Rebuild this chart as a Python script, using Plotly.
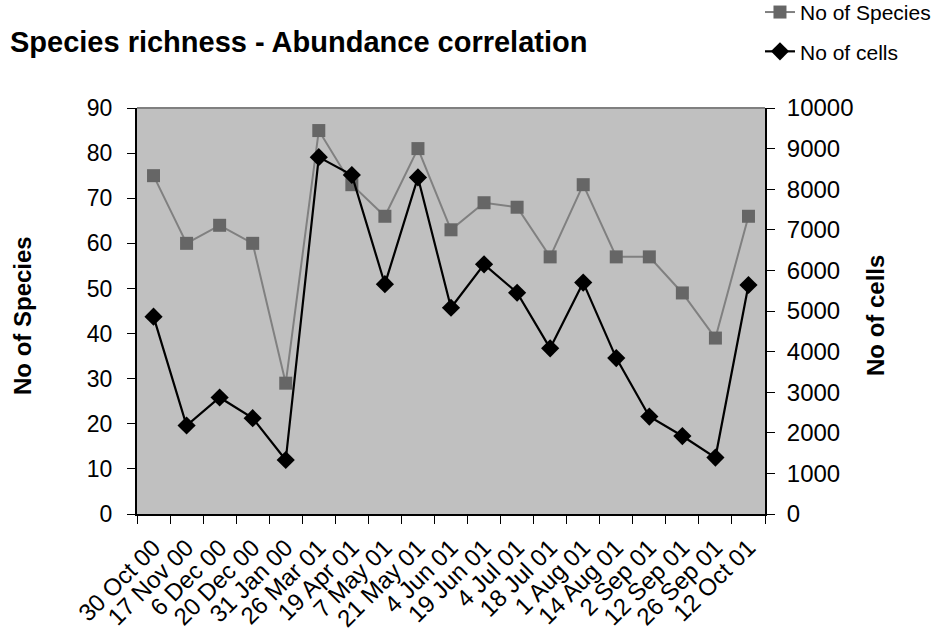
import plotly.graph_objects as go

dates = ["30 Oct 00", "17 Nov 00", "6 Dec 00", "20 Dec 00", "31 Jan 00", "26 Mar 01",
         "19 Apr 01", "7 May 01", "21 May 01", "4 Jun 01", "19 Jun 01", "4 Jul 01",
         "18 Jul 01", "1 Aug 01", "14 Aug 01", "2 Sep 01", "12 Sep 01", "26 Sep 01",
         "12 Oct 01"]
species = [75, 60, 64, 60, 29, 85, 73, 66, 81, 63, 69, 68, 57, 73, 57, 57, 49, 39, 66]
cells = [4860, 2180, 2870, 2360, 1330, 8790, 8350, 5660, 8290, 5080, 6150, 5450,
         4080, 5700, 3840, 2400, 1920, 1390, 5640]

FONT = "Liberation Sans, Arial, sans-serif"

fig = go.Figure()
fig.add_trace(go.Scatter(
    x=dates, y=species, name="No of Species", mode="lines+markers",
    line=dict(color="#808080", width=2),
    marker=dict(symbol="square", size=13, color="#666666"),
    legendgroup="a", yaxis="y"))
fig.add_trace(go.Scatter(
    x=dates, y=cells, name="No of cells", mode="lines+markers",
    line=dict(color="#000000", width=2.2),
    marker=dict(symbol="diamond", size=14, color="#000000"),
    legendgroup="b", yaxis="y2"))

fig.update_layout(
    width=949, height=639,
    margin=dict(l=137, r=184, t=108, b=125, autoexpand=False),
    paper_bgcolor="white", plot_bgcolor="#C0C0C0",
    font=dict(family=FONT, size=22, color="black"),
    title=dict(text="<b>Species richness - Abundance correlation</b>",
               x=0.0105, xanchor="left", y=1 - 42 / 639, yanchor="middle",
               font=dict(size=29, family=FONT)),
    showlegend=True,
    legend=dict(x=0.992, xanchor="left", y=1.286, yanchor="top",
                font=dict(size=21, family=FONT), bgcolor="rgba(0,0,0,0)",
                traceorder="grouped", tracegroupgap=9, itemwidth=30),
    xaxis=dict(type="category", range=[-0.5, len(dates) - 0.5],
               tickson="boundaries", ticks="outside",
               ticklen=8, tickcolor="black", tickwidth=1,
               showline=True, linecolor="black", linewidth=2,
               showgrid=False, tickangle=-45, tickfont=dict(size=24),
               ticklabelstandoff=8),
    yaxis=dict(range=[0, 90], dtick=10, ticks="outside", ticklen=8,
               tickcolor="black", showline=True, linecolor="black", linewidth=2,
               showgrid=False, zeroline=False, tickfont=dict(size=23),
               ticklabelstandoff=10),
    yaxis2=dict(range=[0, 10000], dtick=1000, tickformat="d", ticks="outside", ticklen=8,
                tickcolor="black", showline=True, linecolor="black", linewidth=2,
                showgrid=False, zeroline=False, overlaying="y", side="right",
                tickfont=dict(size=24), ticklabelstandoff=7),
    annotations=[
        dict(text="<b>No of Species</b>", xref="paper", yref="paper",
             x=(22 - 137) / 628, y=0.5 - 5 / 406, xanchor="center", yanchor="middle",
             textangle=-90, showarrow=False, font=dict(size=24, family=FONT)),
        dict(text="<b>No of cells</b>", xref="paper", yref="paper",
             x=(875 - 137) / 628, y=0.5 - 5 / 406, xanchor="center", yanchor="middle",
             textangle=-90, showarrow=False, font=dict(size=24, family=FONT)),
    ],
    shapes=[dict(type="line", xref="paper", yref="paper", x0=0, x1=1, y0=1, y1=1,
                 line=dict(color="#808080", width=2))],
)

fig.write_html("out.html")
